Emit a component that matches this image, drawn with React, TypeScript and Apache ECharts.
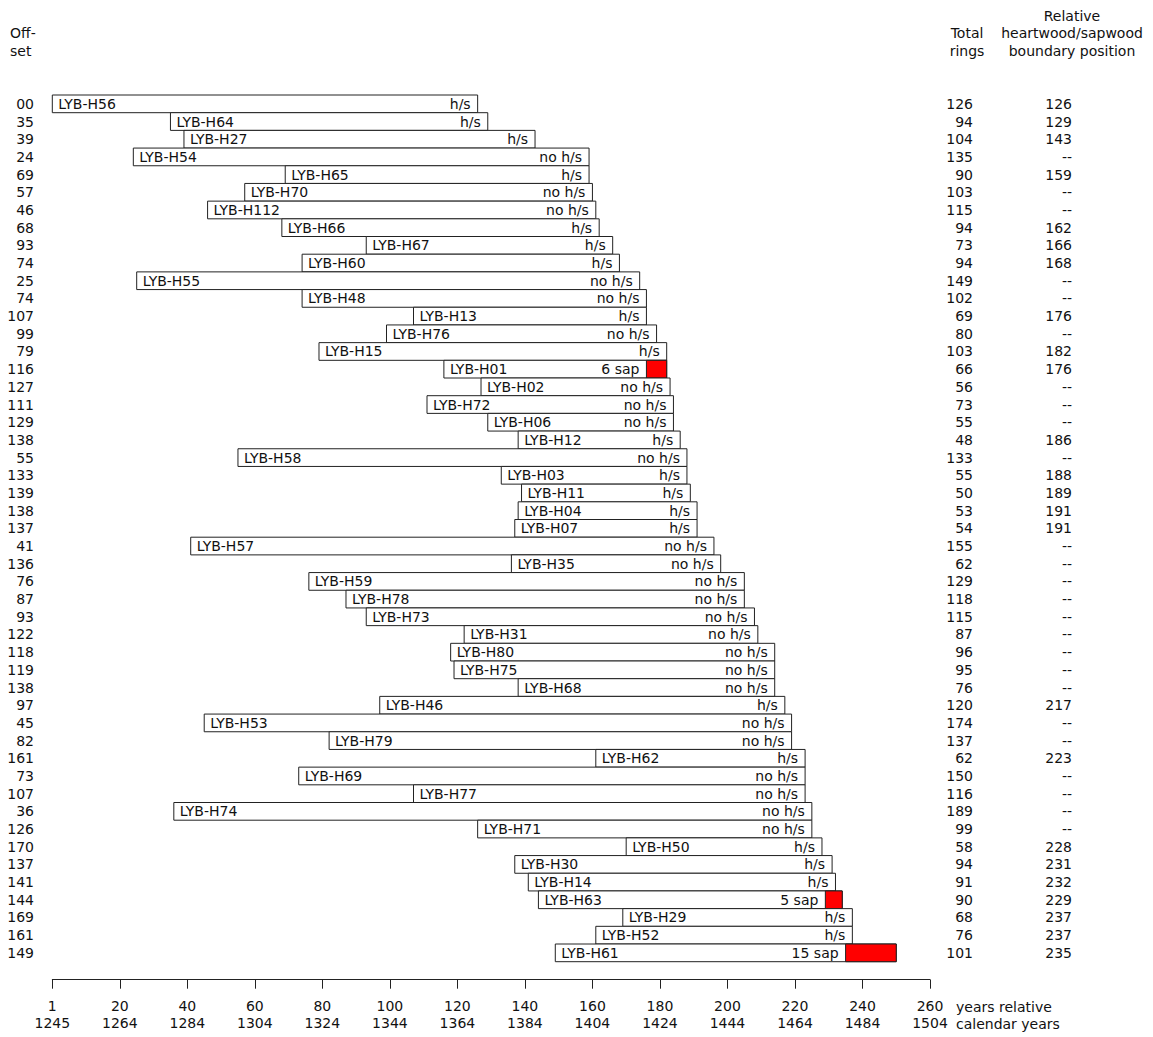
import React, { useEffect, useRef } from "react";
import * as echarts from "echarts";

const names = [
  "LYB-H56", "LYB-H64", "LYB-H27", "LYB-H54", "LYB-H65", "LYB-H70", "LYB-H112", "LYB-H66", "LYB-H67", "LYB-H60",
  "LYB-H55", "LYB-H48", "LYB-H13", "LYB-H76", "LYB-H15", "LYB-H01", "LYB-H02", "LYB-H72", "LYB-H06", "LYB-H12",
  "LYB-H58", "LYB-H03", "LYB-H11", "LYB-H04", "LYB-H07", "LYB-H57", "LYB-H35", "LYB-H59", "LYB-H78", "LYB-H73",
  "LYB-H31", "LYB-H80", "LYB-H75", "LYB-H68", "LYB-H46", "LYB-H53", "LYB-H79", "LYB-H62", "LYB-H69", "LYB-H77",
  "LYB-H74", "LYB-H71", "LYB-H50", "LYB-H30", "LYB-H14", "LYB-H63", "LYB-H29", "LYB-H52", "LYB-H61",
];
const offsets = [
  0, 35, 39, 24, 69, 57, 46, 68, 93, 74,
  25, 74, 107, 99, 79, 116, 127, 111, 129, 138,
  55, 133, 139, 138, 137, 41, 136, 76, 87, 93,
  122, 118, 119, 138, 97, 45, 82, 161, 73, 107,
  36, 126, 170, 137, 141, 144, 169, 161, 149,
];
const rings = [
  126, 94, 104, 135, 90, 103, 115, 94, 73, 94,
  149, 102, 69, 80, 103, 66, 56, 73, 55, 48,
  133, 55, 50, 53, 54, 155, 62, 129, 118, 115,
  87, 96, 95, 76, 120, 174, 137, 62, 150, 116,
  189, 99, 58, 94, 91, 90, 68, 76, 101,
];
const boundaries: (number | null)[] = [
  126, 129, 143, null, 159, null, null, 162, 166, 168,
  null, null, 176, null, 182, 176, null, null, null, 186,
  null, 188, 189, 191, 191, null, null, null, null, null,
  null, null, null, null, 217, null, null, 223, null, null,
  null, null, 228, 231, 232, 229, 237, 237, 235,
];
const sapwood = [
  0, 0, 0, 0, 0, 0, 0, 0, 0, 0,
  0, 0, 0, 0, 0, 6, 0, 0, 0, 0,
  0, 0, 0, 0, 0, 0, 0, 0, 0, 0,
  0, 0, 0, 0, 0, 0, 0, 0, 0, 0,
  0, 0, 0, 0, 0, 5, 0, 0, 15,
];
const relTickLabels = ["1", "20", "40", "60", "80", "100", "120", "140", "160", "180", "200", "220", "240", "260"];
const calTickLabels = ["1245", "1264", "1284", "1304", "1324", "1344", "1364", "1384", "1404", "1424", "1444", "1464", "1484", "1504"];

const FONT = "'DejaVu Sans', 'Liberation Sans', Arial, sans-serif";
const FS = 14;
const TXT = "#111";

export default function App() {
  const ref = useRef<HTMLDivElement>(null);
  useEffect(() => {
    if (!ref.current) return;
    const chart = echarts.init(ref.current, null, { renderer: "svg" });
    const data = names.map((_, i) => [offsets[i], i, offsets[i] + rings[i]]);
    const txt = (x: number, y: number, text: string, align: string) => ({
      type: "text",
      x,
      y,
      style: { text, fill: TXT, font: `${FS}px ${FONT}`, textAlign: align, textVerticalAlign: "middle" },
    });
    const hdr = (x: number, y: number, text: string, align: string, lh: number) => ({
      type: "text",
      x,
      y,
      style: { text, fill: TXT, font: `${FS}px ${FONT}`, lineHeight: lh, textAlign: align, textVerticalAlign: "top" },
    });
    chart.setOption({
      animation: false,
      backgroundColor: "#fff",
      grid: { left: 52.3, right: 223, top: 95, bottom: 75.3, containLabel: false },
      xAxis: {
        type: "value",
        min: 0,
        max: 260,
        interval: 20,
        offset: 18,
        axisLine: { show: true, lineStyle: { color: "#222", width: 1 } },
        axisTick: { show: true, length: 9, lineStyle: { color: "#222" } },
        splitLine: { show: false },
        axisLabel: {
          margin: 18,
          color: TXT,
          fontFamily: FONT,
          fontSize: FS,
          lineHeight: 17,
          formatter: (_v: number, i: number) => `${relTickLabels[i]}\n${calTickLabels[i]}`,
        },
      },
      yAxis: {
        type: "category",
        data: names,
        inverse: true,
        show: false,
      },
      graphic: [
        hdr(10, 24, "Off-\nset", "left", 18),
        hdr(967, 24, "Total\nrings", "center", 18),
        hdr(1072, 7, "Relative\nheartwood/sapwood\nboundary position", "center", 17.5),
        hdr(956, 998.5, "years relative\ncalendar years", "left", 17),
      ],
      series: [
        {
          type: "custom",
          data,
          encode: { x: [0, 2], y: 1 },
          renderItem: (params: any, api: any) => {
            const i = params.dataIndex;
            const start = api.value(0);
            const row = api.value(1);
            const end = api.value(2);
            const p0 = api.coord([start, row]);
            const p1 = api.coord([end, row]);
            const h = api.size([0, 1])[1];
            const top = p0[1] - h / 2;
            const sap = sapwood[i];
            const b = boundaries[i];
            const children: any[] = [
              {
                type: "rect",
                shape: { x: p0[0], y: top, width: p1[0] - p0[0], height: h },
                style: { fill: "#fff", stroke: "#222", lineWidth: 1 },
              },
            ];
            let statusX = p1[0];
            let status = b !== null ? "h/s" : "no h/s";
            if (sap > 0 && b !== null) {
              const pb = api.coord([b, row]);
              children.push({
                type: "rect",
                shape: { x: pb[0], y: top, width: p1[0] - pb[0], height: h },
                style: { fill: "#ff0000", stroke: "#222", lineWidth: 1 },
              });
              statusX = pb[0];
              status = `${sap} sap`;
            }
            children.push(txt(p0[0] + 6, p0[1], names[i], "left"));
            children.push(txt(statusX - 7, p0[1], status, "right"));
            children.push(txt(34, p0[1], String(offsets[i]).padStart(2, "0"), "right"));
            children.push(txt(973, p0[1], String(rings[i]), "right"));
            children.push(txt(1072, p0[1], b !== null ? String(b) : "--", "right"));
            return { type: "group", children };
          },
        },
      ],
    });
    return () => chart.dispose();
  }, []);
  return <div ref={ref} style={{ width: 1153, height: 1037, position: "absolute", left: 0, top: 0 }} />;
}
